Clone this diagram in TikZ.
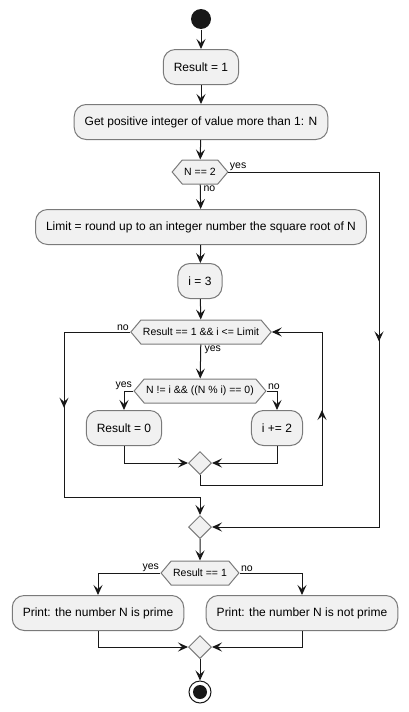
\documentclass[tikz,border=0pt]{standalone}
\usepackage{fontspec}
\setmainfont{Liberation Sans}
\usetikzlibrary{positioning,shapes.geometric,shapes.symbols,arrows.meta,decorations.markings}
\definecolor{boxfill}{HTML}{F1F1F1}
\definecolor{boxline}{HTML}{7A7A7A}
\definecolor{flow}{HTML}{181818}
\tikzstyle{action}=[draw=boxline,fill=boxfill,rounded corners=12pt,minimum height=35pt,inner xsep=10.5pt,font=\fontsize{12}{14}\selectfont]
\tikzstyle{test}=[draw=boxline,fill=boxfill,signal,signal to=west and east,signal pointer angle=100,minimum height=24pt,inner xsep=2pt,inner ysep=0pt,font=\fontsize{10.5}{12}\selectfont]
\tikzstyle{merge}=[draw=boxline,fill=boxfill,diamond,minimum size=23pt,inner sep=0pt]
\tikzstyle{lbl}=[font=\fontsize{10.5}{12}\selectfont,inner sep=1pt]
\tikzstyle{midarrow}=[postaction={decorate},decoration={markings,mark=at position #1 with {\arrow{>}}}]
\newcommand{\newAction}[3]{\node[action](#1) at (#3) {#2};}
\newcommand{\newTest}[3]{\node[test](#1) at (#3) {#2};}
\newcommand{\newMerge}[2]{\node[merge](#1) at (#2) {};}

\begin{document}
\begin{tikzpicture}[x=1pt,y=-1pt,
      >={Stealth[length=10pt,width=9pt,inset=4pt]},
      line width=1pt,draw=flow
      ]
      \useasboundingbox (0,0) rectangle (409,712);
      \node[circle,fill=flow,minimum size=20pt,inner sep=0pt] (start) at (201,19) {};
      \newAction{r1}{Result = 1}{201,67}
      \newAction{get}{Get positive integer of value more than 1: N}{201,122}
      \newTest{n2}{N == 2}{200,172}
      \newAction{limit}{Limit = round up to an integer number the square root of N}{201,227}
      \newAction{i3}{i = 3}{200,281}
      \newTest{loop}{Result == 1 \&\& i <= Limit}{201,332}
      \newTest{test}{N != i \&\& ((N \% i) == 0)}{200,391}
      \newAction{res0}{Result = 0}{124,428}
      \newAction{inc}{i += 2}{277,428}
      \newMerge{m1}{200,463}
      \newMerge{m2}{200,527}
      \newTest{chk}{Result == 1}{200,573}
      \newAction{prime}{Print: the number N is prime}{98,613}
      \newAction{notprime}{Print: the number N is not prime}{302,613}
      \newMerge{m3}{200,647}
      \node[circle,draw=flow,fill=white,minimum size=22pt,inner sep=0pt] (end) at (200,692) {};
      \fill[flow] (end.center) circle (7pt);

      \coordinate (yesc) at (379,527);
      \coordinate (back) at (322,485);
      \coordinate (exitc) at (64,497);

      % labels
      \node[lbl,anchor=south west] (n2yes) at (n2.east) {yes};
      \node[lbl,anchor=north west] (n2no) at ([xshift=2pt]n2.south) {no};
      \node[lbl,anchor=south east] (loopno) at (loop.west) {no};
      \node[lbl,anchor=north west] (loopyes) at ([xshift=2pt]loop.south) {yes};
      \node[lbl,anchor=south east] (testyes) at (test.west) {yes};
      \node[lbl,anchor=south west] (testno) at (test.east) {no};
      \node[lbl,anchor=south east] (chkyes) at (chk.west) {yes};
      \node[lbl,anchor=south west] (chkno) at (chk.east) {no};

      \draw[->] (start) -- (r1);
      \draw[->] (r1) -- (get);
      \draw[->] (get) -- (n2);
      \draw[->] (n2) -- (limit);
      \draw[->,midarrow=320pt] (n2.east) -| (yesc) -- (m2.east);
      \draw[->] (limit) -- (i3);
      \draw[->] (i3) -- (loop);
      \draw[->] (loop) -- (test);
      \draw[->] (test.west) -| (res0);
      \draw[->] (test.east) -| (inc);
      \draw[->] (res0) |- (m1);
      \draw[->] (inc) |- (m1);
      \draw[->,midarrow=207pt] (m1.south) |- (back) |- (loop.east);
      \draw[->,midarrow=142pt] (loop.west) -| (exitc) -| (m2.north);
      \draw[->] (m2) -- (chk);
      \draw[->] (chk.west) -| (prime);
      \draw[->] (chk.east) -| (notprime);
      \draw[->] (prime) |- (m3);
      \draw[->] (notprime) |- (m3);
      \draw[->] (m3) -- (end);
    \end{tikzpicture}
\end{document}
